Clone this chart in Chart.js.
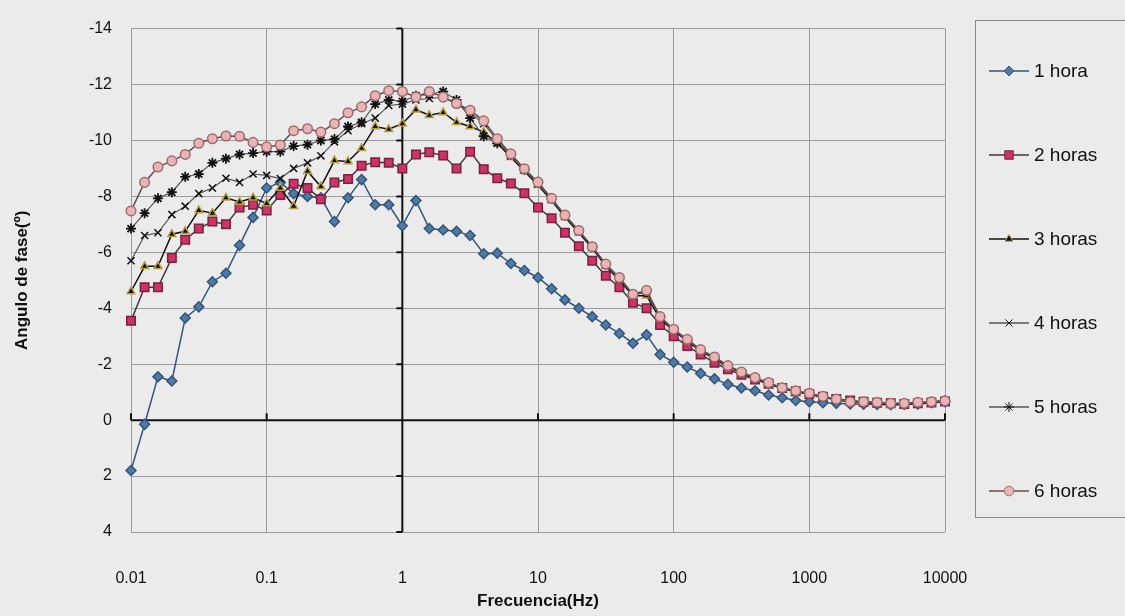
<!DOCTYPE html>
<html>
<head>
<meta charset="utf-8">
<script src="https://cdn.jsdelivr.net/npm/chart.js@4"></script>
<style>
  body { margin: 0; background: #ebebeb; }
  #chart1 { display: block; }
</style>
</head>
<body>
<canvas id="chart1" width="1125" height="616"></canvas>
<script>
// frecuencias (Hz), 10 puntos por decada
const frecuencias = [0.01, 0.0126, 0.0158, 0.02, 0.0251, 0.0316, 0.0398, 0.0501, 0.0631, 0.0794,
  0.1, 0.126, 0.158, 0.2, 0.251, 0.316, 0.398, 0.501, 0.631, 0.794,
  1, 1.26, 1.58, 2, 2.51, 3.16, 3.98, 5.01, 6.31, 7.94,
  10, 12.6, 15.8, 20, 25.1, 31.6, 39.8, 50.1, 63.1, 79.4,
  100, 126, 158, 200, 251, 316, 398, 501, 631, 794,
  1000, 1260, 1580, 2000, 2510, 3160, 3980, 5010, 6310, 7940,
  10000];

const series = ["1 hora", "2 horas", "3 horas", "4 horas", "5 horas", "6 horas"];

const hora1 = [1.8, 0.15, -1.55, -1.4, -3.65, -4.05, -4.95, -5.25, -6.25, -7.25,
  -8.3, -8.5, -8.1, -8.0, -7.95, -7.1, -7.95, -8.6, -7.7, -7.7,
  -6.95, -7.85, -6.85, -6.8, -6.75, -6.6, -5.95, -5.97, -5.6, -5.35,
  -5.1, -4.7, -4.3, -4.0, -3.7, -3.4, -3.1, -2.75, -3.05, -2.35,
  -2.07, -1.9, -1.67, -1.48, -1.28, -1.15, -1.05, -0.9, -0.8, -0.7,
  -0.66, -0.62, -0.6, -0.58, -0.57, -0.56, -0.55, -0.56, -0.58, -0.62,
  -0.66];
const hora2 = [-3.55, -4.75, -4.75, -5.8, -6.45, -6.85, -7.1, -7.0, -7.6, -7.7,
  -7.5, -8.05, -8.45, -8.3, -7.9, -8.5, -8.62, -9.1, -9.22, -9.2,
  -9.0, -9.5, -9.58, -9.46, -9.0, -9.6, -8.97, -8.65, -8.46, -8.11,
  -7.6, -7.22, -6.7, -6.22, -5.7, -5.16, -4.75, -4.2, -4.0, -3.4,
  -3.0, -2.65, -2.35, -2.05, -1.82, -1.62, -1.45, -1.3, -1.15, -1.03,
  -0.93, -0.84, -0.76, -0.7, -0.66, -0.62, -0.6, -0.58, -0.6, -0.63,
  -0.67];
const hora3 = [-4.6, -5.5, -5.5, -6.65, -6.75, -7.5, -7.4, -7.95, -7.8, -7.95,
  -7.75, -8.3, -7.65, -8.9, -8.35, -9.28, -9.25, -9.72, -10.5, -10.4,
  -10.6, -11.1, -10.9, -11.0, -10.65, -10.5, -10.3, -9.9, -9.4, -8.9,
  -8.4, -7.85, -7.25, -6.7, -6.15, -5.5, -5.0, -4.45, -4.45, -3.62,
  -3.2, -2.82, -2.47, -2.2, -1.9, -1.68, -1.48, -1.3, -1.13, -1.02,
  -0.92, -0.82, -0.73, -0.65, -0.62, -0.6, -0.55, -0.57, -0.6, -0.64,
  -0.68];
const hora4 = [-5.7, -6.6, -6.7, -7.35, -7.65, -8.1, -8.3, -8.65, -8.5, -8.8,
  -8.75, -8.64, -9.0, -9.2, -9.45, -9.95, -10.35, -10.6, -10.8, -11.25,
  -11.3, -11.45, -11.5, -11.55, -11.3, -11.0, -10.6, -10.0, -9.45, -8.95,
  -8.45, -7.9, -7.3, -6.75, -6.2, -5.55, -5.05, -4.5, -4.55, -3.67,
  -3.22, -2.86, -2.5, -2.23, -1.93, -1.7, -1.5, -1.32, -1.15, -1.04,
  -0.94, -0.84, -0.74, -0.66, -0.64, -0.62, -0.58, -0.58, -0.62, -0.65,
  -0.68];
const hora5 = [-6.85, -7.4, -7.93, -8.15, -8.7, -8.8, -9.2, -9.35, -9.5, -9.55,
  -9.6, -9.6, -9.8, -9.85, -10.0, -10.05, -10.5, -10.65, -11.3, -11.45,
  -11.4, -11.6, -11.65, -11.75, -11.45, -10.8, -10.15, -9.9, -9.5, -8.95,
  -8.5, -7.92, -7.32, -6.78, -6.2, -5.57, -5.08, -4.5, -4.6, -3.68,
  -3.24, -2.88, -2.51, -2.25, -1.94, -1.71, -1.51, -1.33, -1.15, -1.04,
  -0.95, -0.85, -0.75, -0.66, -0.65, -0.63, -0.6, -0.59, -0.63, -0.66,
  -0.69];
const hora6 = [-7.48, -8.5, -9.05, -9.27, -9.5, -9.9, -10.06, -10.16, -10.15, -9.93,
  -9.77, -9.84, -10.35, -10.42, -10.3, -10.6, -10.99, -11.2, -11.6, -11.78,
  -11.75, -11.55, -11.75, -11.55, -11.32, -11.08, -10.7, -10.06, -9.52, -8.99,
  -8.51, -7.93, -7.33, -6.78, -6.2, -5.58, -5.1, -4.5, -4.64, -3.7,
  -3.25, -2.89, -2.52, -2.26, -1.95, -1.72, -1.52, -1.34, -1.16, -1.05,
  -0.96, -0.85, -0.75, -0.66, -0.66, -0.64, -0.6, -0.6, -0.64, -0.66,
  -0.69];

const ticksX = [0.01, 0.1, 1, 10, 100, 1000, 10000];
const ticksY = [-14, -12, -10, -8, -6, -4, -2, 0, 2, 4];

function puntos(valores) {
  return valores.map((v, i) => ({ x: frecuencias[i], y: v }));
}

// ejes que se cruzan en x=1, y=0 (como en Excel)
const ejesCruzados = {
  id: "ejesCruzados",
  beforeDatasetsDraw(chart) {
    const { ctx, chartArea, scales } = chart;
    const x0 = scales.x.getPixelForValue(1);
    const y0 = scales.y.getPixelForValue(0);
    ctx.save();
    ctx.strokeStyle = "#111";
    ctx.lineWidth = 2;
    ctx.beginPath();
    ctx.moveTo(x0, chartArea.top);
    ctx.lineTo(x0, chartArea.bottom);
    ctx.moveTo(chartArea.left, y0);
    ctx.lineTo(chartArea.right, y0);
    ticksY.forEach(v => {
      const y = scales.y.getPixelForValue(v);
      ctx.moveTo(x0 - 6, y);
      ctx.lineTo(x0, y);
    });
    ticksX.forEach(v => {
      const x = scales.x.getPixelForValue(v);
      ctx.moveTo(x, y0 - 7);
      ctx.lineTo(x, y0);
    });
    ctx.stroke();
    ctx.restore();
  }
};

// leyenda con recuadro a la derecha
const leyenda = {
  id: "leyenda",
  afterDraw(chart) {
    const { ctx } = chart;
    ctx.save();
    ctx.strokeStyle = "#8a8a8a";
    ctx.lineWidth = 1;
    ctx.strokeRect(975.5, 20.5, 200, 497);
    chart.data.datasets.forEach((ds, i) => {
      const y = 71 + i * 84;
      ctx.strokeStyle = ds.borderColor;
      ctx.lineWidth = 1.5;
      ctx.beginPath();
      ctx.moveTo(989, y);
      ctx.lineTo(1029, y);
      ctx.stroke();
      ctx.fillStyle = ds.pointBackgroundColor;
      ctx.strokeStyle = ds.pointBorderColor;
      ctx.lineWidth = 1;
      Chart.helpers.drawPoint(ctx, { pointStyle: ds.pointStyle, radius: ds.pointRadius, borderWidth: 1, rotation: 0 }, 1009, y);
      ctx.fillStyle = "#111";
      ctx.font = "19px 'Liberation Sans', Arial, sans-serif";
      ctx.textBaseline = "middle";
      ctx.fillText(ds.label, 1034, y + 1);
    });
    ctx.restore();
  }
};

function faseChart(ctx) {
  const chart = new Chart(ctx, {
    type: "line",
    data: {
      datasets: [
        {
          label: series[0], data: puntos(hora1), order: 6, clip: 12,
          borderColor: "#34557a", borderWidth: 1.5,
          pointStyle: "rectRot", pointRadius: 5,
          pointBackgroundColor: "#4d7aa6", pointBorderColor: "#34557a",
        },
        {
          label: series[1], data: puntos(hora2), order: 5, clip: 12,
          borderColor: "#3a3a3a", borderWidth: 1.5,
          pointStyle: "rect", pointRadius: 6,
          pointBackgroundColor: "#cc3366", pointBorderColor: "#7a2040",
        },
        {
          label: series[2], data: puntos(hora3), order: 4, clip: 12,
          borderColor: "#111", borderWidth: 1.5,
          pointStyle: "triangle", pointRadius: 4.5,
          pointBackgroundColor: "#111", pointBorderColor: "#b8a040",
        },
        {
          label: series[3], data: puntos(hora4), order: 3, clip: 12,
          borderColor: "#555", borderWidth: 1.2,
          pointStyle: "crossRot", pointRadius: 5,
          pointBackgroundColor: "#111", pointBorderColor: "#111", pointBorderWidth: 1.5,
        },
        {
          label: series[4], data: puntos(hora5), order: 2, clip: 12,
          borderColor: "#555", borderWidth: 1.2,
          pointStyle: "star", pointRadius: 5,
          pointBackgroundColor: "#111", pointBorderColor: "#111", pointBorderWidth: 1.8,
        },
        {
          label: series[5], data: puntos(hora6), order: 1, clip: 12,
          borderColor: "#6b4a4a", borderWidth: 1.5,
          pointStyle: "circle", pointRadius: 4.8,
          pointBackgroundColor: "#e8b4b4", pointBorderColor: "#a06a6a",
        },
      ],
    },
    options: {
      responsive: false,
      animation: false,
      layout: { padding: { left: 0, top: 22, right: 180, bottom: 0 } },
      plugins: {
        legend: { display: false },
        tooltip: { enabled: false },
      },
      scales: {
        x: {
          type: "logarithmic",
          min: 0.01,
          max: 10000,
          afterBuildTicks: s => { s.ticks = ticksX.map(v => ({ value: v })); },
          afterFit: s => { s.height = 84; },
          grid: { color: "#9c9c9c", lineWidth: 1, drawTicks: false },
          border: { display: false },
          ticks: {
            padding: 37,
            color: "#111",
            maxRotation: 0,
            font: { family: "'Liberation Sans', Arial, sans-serif", size: 16 },
            callback: v => String(v),
          },
          title: {
            display: true,
            text: "Frecuencia(Hz)",
            color: "#111",
            padding: { top: 0, bottom: 4 },
            font: { family: "'Liberation Sans', Arial, sans-serif", size: 17, weight: "bold" },
          },
        },
        y: {
          reverse: true,
          min: -14,
          max: 4,
          afterBuildTicks: s => { s.ticks = ticksY.map(v => ({ value: v })); },
          afterFit: s => { s.width = 131; },
          grid: { color: "#9c9c9c", lineWidth: 1, drawTicks: false },
          border: { display: false },
          ticks: {
            padding: 19,
            color: "#111",
            font: { family: "'Liberation Sans', Arial, sans-serif", size: 16 },
          },
          title: {
            display: true,
            text: "Angulo de fase(º)",
            color: "#111",
            padding: { top: 12, bottom: 0 },
            font: { family: "'Liberation Sans', Arial, sans-serif", size: 17, weight: "bold" },
          },
        },
      },
    },
    plugins: [ejesCruzados, leyenda],
  });
}

function renderChart() {
  const ctx = document.querySelector("#chart1").getContext("2d");
  faseChart(ctx);
}
renderChart();
</script>
</body>
</html>
